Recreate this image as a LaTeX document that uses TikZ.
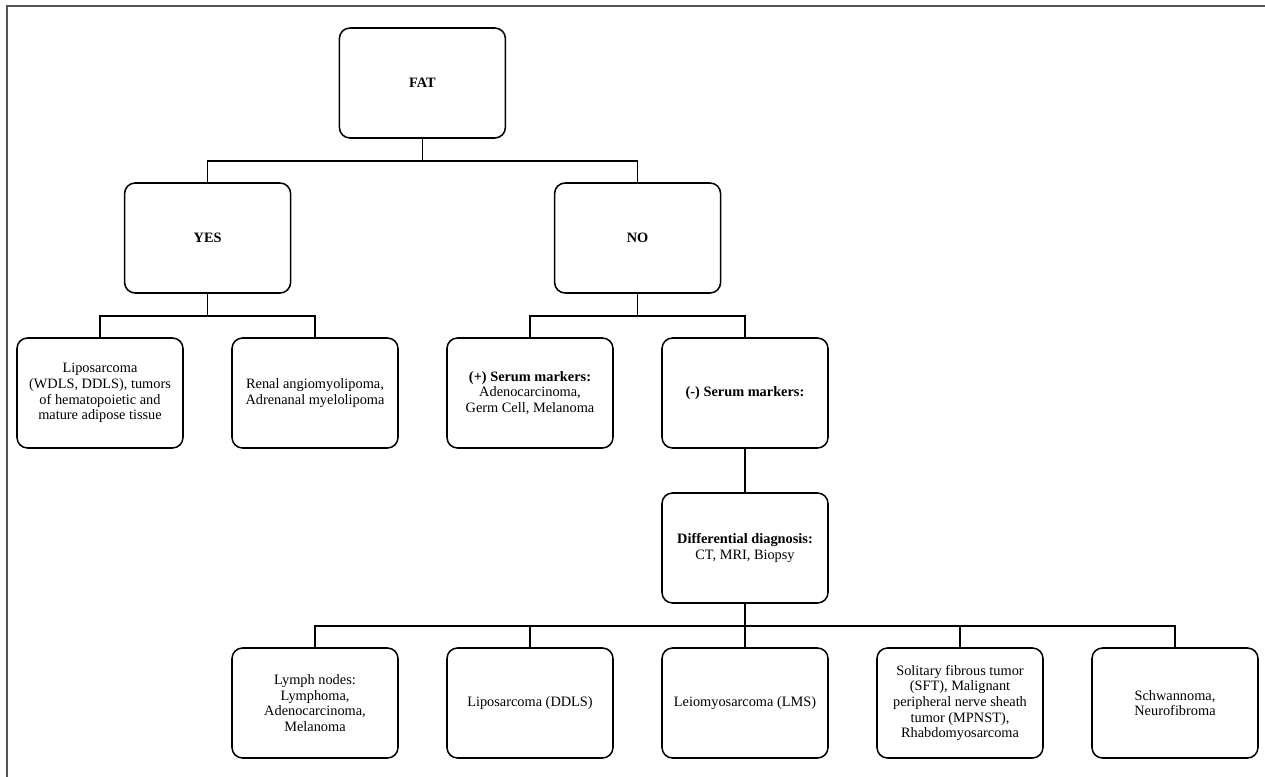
\documentclass[tikz,border=0pt]{standalone}
\usepackage{fontspec}
\setmainfont{Liberation Serif}
\usepackage{xcolor}
\usepackage{tikz}
\usetikzlibrary{calc, positioning}
\definecolor{framegray}{RGB}{85,85,85}

\begin{document}
\begin{tikzpicture}[
  every node/.style = {rectangle, rounded corners=7.5pt, draw, line width=1.1pt, align=center, font=\fontsize{10.2}{11.2}\selectfont, inner sep=2pt, minimum width=4.15cm, minimum height=2.75cm},
  head/.style  = {font=\fontsize{10.2}{11.2}\selectfont\bfseries},
  link/.style  = {line width=1.1pt, draw=black},
  frame/.style = {line width=1.5pt, draw=framegray},
]
\useasboundingbox (0,0) rectangle (31.625,-19.425);
\draw[frame] (0.17,-19.425) |- (31.625,-0.16);
% Root
\node[head] (fat) at (10.56,-2.075) {FAT};
% Yes / no layer
\node[head] (yes) at (5.19,-5.95) {YES};
\node[head] (no) at (15.94,-5.95) {NO};
% Third layer
\node (lipo) at (2.5,-9.825) {Liposarcoma\\(WDLS, DDLS), tumors\\of hematopoietic and\\mature adipose tissue};
\node (renal) at (7.875,-9.825) {Renal angiomyolipoma,\\Adrenanal myelolipoma};
\node (serpos) at (13.25,-9.825) {\textbf{(+) Serum markers:}\\Adenocarcinoma,\\Germ Cell, Melanoma};
\node (serneg) at (18.625,-9.825) {\textbf{(-) Serum markers:}};
% Differential diagnosis
\node (diffdx) at (18.625,-13.7) {\textbf{Differential diagnosis:}\\CT, MRI, Biopsy};
% Bottom layer
\node (lymph) at (7.875,-17.575) {Lymph nodes:\\Lymphoma,\\Adenocarcinoma,\\Melanoma};
\node (ddls) at (13.25,-17.575) {Liposarcoma (DDLS)};
\node (lms) at (18.625,-17.575) {Leiomyosarcoma (LMS)};
\node (sft) at (24.0,-17.575) {Solitary fibrous tumor\\(SFT), Malignant\\peripheral nerve sheath\\tumor (MPNST),\\Rhabdomyosarcoma};
\node (schwann) at (29.375,-17.575) {Schwannoma,\\Neurofibroma};
% Connectors
\foreach \kid in {yes, no}
  \draw[link] (fat.south) -- ++(0,-0.55) -| (\kid.north);
\foreach \kid in {lipo, renal}
  \draw[link] (yes.south) -- ++(0,-0.55) -| (\kid.north);
\foreach \kid in {serpos, serneg}
  \draw[link] (no.south) -- ++(0,-0.55) -| (\kid.north);
\draw[link] (serneg) -- (diffdx);
\foreach \kid in {lymph, ddls, lms, sft, schwann}
  \draw[link] (diffdx.south) -- ++(0,-0.55) -| (\kid.north);
\end{tikzpicture}
\end{document}
